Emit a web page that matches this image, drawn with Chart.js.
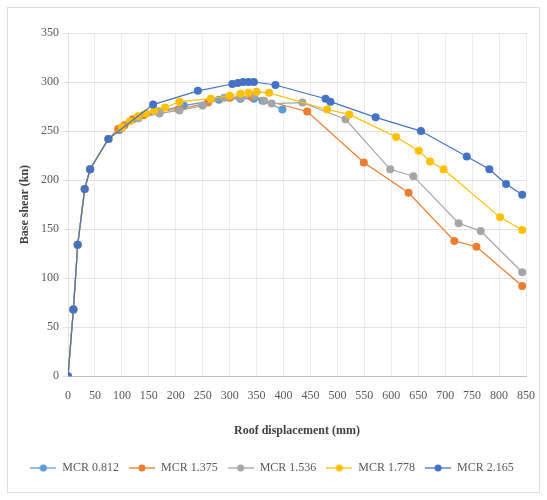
<!DOCTYPE html>
<html>
<head>
<meta charset="utf-8">
<script src="https://cdn.jsdelivr.net/npm/chart.js@4/dist/chart.umd.min.js"></script>
<style>
  html, body { margin: 0; padding: 0; background: #ffffff; }
  #wrap { position: relative; width: 547px; height: 500px; }
  #frame { position: absolute; left: 7px; top: 7px; width: 531px; height: 484px; border: 1px solid #dcdcdc; }
  canvas { position: absolute; left: 0; top: 0; }
</style>
</head>
<body>
<div id="wrap">
  <div id="frame"></div>
  <canvas id="c" width="547" height="500"></canvas>
</div>
<script>
// Pushover curves: roof displacement (mm) vs base shear (kN)
const seriesNames = ['MCR 0.812', 'MCR 1.375', 'MCR 1.536', 'MCR 1.778', 'MCR 2.165'];
const seriesColors = ['#5B9BD5', '#ED7D31', '#A5A5A5', '#FFC000', '#4472C4'];

const disp0812 = [0, 10, 18, 31, 41, 75, 95, 130, 170, 215, 280, 320, 345, 361, 398];
const shear0812 = [0, 68, 134, 191, 211, 242, 251, 263, 270, 276, 282, 283, 283, 281, 272];

const disp1375 = [0, 10, 18, 31, 41, 75, 93, 105, 120, 140, 165, 205, 260, 300, 320, 340, 444, 549, 632, 717, 758, 843];
const shear1375 = [0, 68, 134, 191, 211, 242, 252, 256, 262, 266, 270, 272, 279, 284, 285, 285, 270, 218, 187, 138, 132, 92];

const disp1536 = [0, 10, 18, 31, 41, 75, 100, 130, 170, 207, 250, 290, 320, 346, 364, 378, 435, 515, 598, 641, 725, 766, 843];
const shear1536 = [0, 68, 134, 191, 211, 242, 253, 263, 268, 271, 276, 284, 284, 286, 281, 278, 279, 262, 211, 204, 156, 148, 106];

const disp1778 = [0, 10, 18, 31, 41, 75, 100, 115, 130, 145, 160, 180, 207, 265, 300, 320, 335, 350, 373, 481, 522, 609, 651, 672, 697, 802, 843];
const shear1778 = [0, 68, 134, 191, 211, 242, 254, 260, 265, 268, 271, 274, 280, 283, 286, 288, 289, 290, 289, 272, 267, 244, 230, 219, 211, 162, 149];

const disp2165 = [0, 10, 18, 31, 41, 75, 158, 241, 305, 315, 325, 335, 345, 385, 478, 487, 571, 655, 740, 782, 813, 843];
const shear2165 = [0, 68, 134, 191, 211, 242, 277, 291, 298, 299, 300, 300, 300, 297, 283, 280, 264, 250, 224, 211, 196, 185];

const xTicks = [0, 50, 100, 150, 200, 250, 300, 350, 400, 450, 500, 550, 600, 650, 700, 750, 800, 850];
const yTicks = [0, 50, 100, 150, 200, 250, 300, 350];

const seriesDisp = [disp0812, disp1375, disp1536, disp1778, disp2165];
const seriesShear = [shear0812, shear1375, shear1536, shear1778, shear2165];

// Legend symbol: short line with a marker in the middle
function legendSymbol(color) {
  const cv = document.createElement('canvas');
  cv.width = 26; cv.height = 10;
  const g = cv.getContext('2d');
  g.strokeStyle = color; g.lineWidth = 1.3;
  g.beginPath(); g.moveTo(0, 5); g.lineTo(26, 5); g.stroke();
  g.fillStyle = color;
  g.beginPath(); g.arc(13, 5, 3.5, 0, Math.PI * 2); g.fill();
  return cv;
}

const datasets = seriesNames.map((name, i) => ({
  label: name,
  data: seriesDisp[i].map((d, k) => ({ x: d, y: seriesShear[i][k] })),
  showLine: true,
  borderColor: seriesColors[i],
  backgroundColor: seriesColors[i],
  borderWidth: 1.2,
  pointRadius: 4,
  pointBorderWidth: 0,
  pointBackgroundColor: seriesColors[i],
  order: seriesNames.length - i,
  symbol: legendSymbol(seriesColors[i])
}));

const serif = '"Liberation Serif", "Times New Roman", serif';

new Chart(document.getElementById('c'), {
  type: 'scatter',
  data: { datasets },
  options: {
    responsive: false,
    animation: false,
    layout: { padding: { left: 14, right: 17, top: 33, bottom: 16 } },
    plugins: {
      tooltip: { enabled: false },
      legend: {
        position: 'bottom',
        labels: {
          usePointStyle: true,
          pointStyleWidth: 26,
          padding: 10,
          color: '#595959',
          font: { family: serif, size: 12 },
          sort: (a, b) => a.datasetIndex - b.datasetIndex,
          generateLabels: (chart) => chart.data.datasets.map((ds, i) => ({
            text: ds.label,
            fillStyle: ds.borderColor,
            strokeStyle: ds.borderColor,
            fontColor: '#595959',
            lineWidth: 0,
            pointStyle: ds.symbol,
            hidden: false,
            datasetIndex: i
          }))
        }
      }
    },
    scales: {
      x: {
        type: 'linear',
        min: 0, max: 850,
        afterBuildTicks: (s) => { s.ticks = xTicks.map(v => ({ value: v })); },
        grid: { color: '#ececec', drawTicks: false, lineWidth: 1 },
        border: { color: '#bfbfbf' },
        ticks: { color: '#595959', padding: 12, maxRotation: 0, autoSkip: false, font: { family: serif, size: 12 } },
        title: { display: true, text: 'Roof displacement (mm)', color: '#404040', padding: { top: 9, bottom: 14 }, font: { family: serif, size: 12, weight: 'bold' } }
      },
      y: {
        min: 0, max: 350,
        afterBuildTicks: (s) => { s.ticks = yTicks.map(v => ({ value: v })); },
        afterFit: (s) => { s.width = 54; },
        grid: { color: '#e3e3e3', tickLength: 5, lineWidth: 1 },
        border: { color: '#e3e3e3' },
        ticks: { color: '#595959', padding: 4, font: { family: serif, size: 12 } },
        title: { display: true, text: 'Base shear (kn)', color: '#404040', padding: 4, font: { family: serif, size: 12, weight: 'bold' } }
      }
    }
  }
});
</script>
</body>
</html>
